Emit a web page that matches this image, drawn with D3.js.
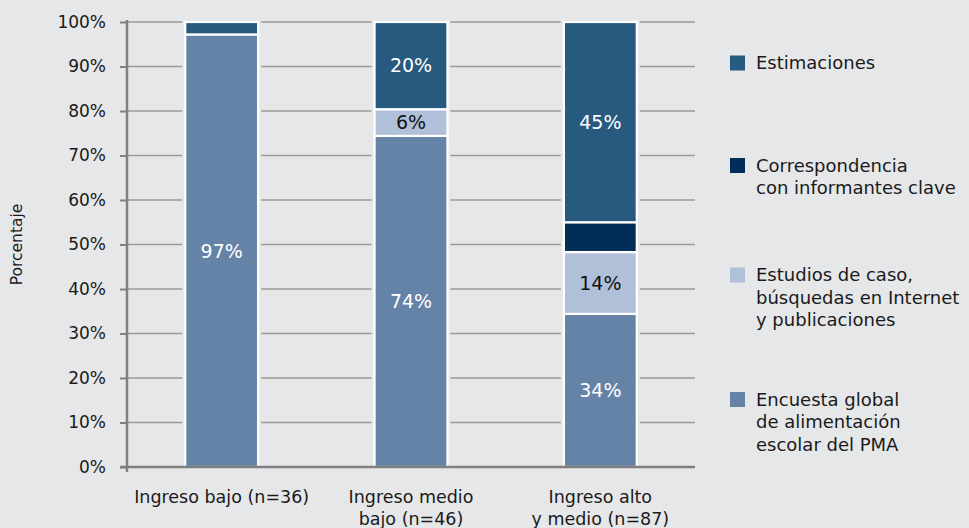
<!DOCTYPE html>
<html>
<head>
<meta charset="utf-8">
<script src="https://cdn.jsdelivr.net/npm/d3@7"></script>
<style>
  html, body { margin: 0; padding: 0; background: #e6e7e9; }
  svg { display: block; font-family: "DejaVu Sans", Verdana, sans-serif; }
  svg text { font-family: "DejaVu Sans", Verdana, sans-serif; }
</style>
</head>
<body>
<svg id="chart" width="969" height="528"></svg>
<script>
// ---- data ----
const categories = ["Ingreso bajo (n=36)", "Ingreso medio bajo (n=46)", "Ingreso alto y medio (n=87)"];
const categoryLines = [["Ingreso bajo (n=36)"], ["Ingreso medio", "bajo (n=46)"], ["Ingreso alto", "y medio (n=87)"]];
const seriesNames = ["Encuesta global de alimentación escolar del PMA", "Estudios de caso, búsquedas en Internet y publicaciones", "Correspondencia con informantes clave", "Estimaciones"];
const encuesta = [97.2, 74.4, 34.4];
const estudios = [0, 6.0, 13.9];
const correspondencia = [0, 0, 6.7];
const estimaciones = [2.8, 19.6, 45.0];
const labelsEncuesta = ["97%", "74%", "34%"];
const labelsEstudios = [null, "6%", "14%"];
const labelsCorrespondencia = [null, null, null];
const labelsEstimaciones = [null, "20%", "45%"];
const yTicks = [0, 10, 20, 30, 40, 50, 60, 70, 80, 90, 100];
const legendLines = [
  ["Estimaciones"],
  ["Correspondencia", "con informantes clave"],
  ["Estudios de caso,", "búsquedas en Internet", "y publicaciones"],
  ["Encuesta global", "de alimentación", "escolar del PMA"]
];

// ---- styles ----
const FONT = "DejaVu Sans, Verdana, sans-serif";
const bg = "#e6e7e9";
const colors = ["#6583a7", "#b0c0d8", "#022d57", "#285a80"];
const labelColors = ["#ffffff", "#111111", "#ffffff", "#ffffff"];
const seriesValues = [encuesta, estudios, correspondencia, estimaciones];
const seriesLabels = [labelsEncuesta, labelsEstudios, labelsCorrespondencia, labelsEstimaciones];

const svg = d3.select("#chart");
const x0 = 127, x1 = 695, yTop = 22, yBot = 467;

const x = d3.scaleBand().domain(categories).range([x0, x1]).paddingInner(0.615).paddingOuter(0.3075);
const y = d3.scaleLinear().domain([0, 100]).range([yBot, yTop]);

// gridlines
svg.append("g")
  .selectAll("line").data(yTicks.filter(d => d > 0)).join("line")
  .attr("x1", x0).attr("x2", x1)
  .attr("y1", d => y(d)).attr("y2", d => y(d))
  .attr("stroke", "#9a9a9a").attr("stroke-width", 1.5);

// knockouts behind bars
svg.append("g").selectAll("rect").data(categories).join("rect")
  .attr("x", d => x(d) - 3).attr("width", x.bandwidth() + 6)
  .attr("y", y(100) - 3).attr("height", y(0) - y(100) + 3)
  .attr("fill", bg);

// stacked data
const table = categories.map((c, i) => {
  const o = { cat: c };
  seriesNames.forEach((s, k) => { o[s] = seriesValues[k][i]; });
  return o;
});
const stack = d3.stack().keys(seriesNames)(table);

const gBars = svg.append("g");
stack.forEach((layer, k) => {
  gBars.append("g").selectAll("rect").data(layer).join("rect")
    .filter(d => d[1] - d[0] > 0)
    .attr("x", d => x(d.data.cat))
    .attr("width", x.bandwidth())
    .attr("y", d => y(d[1]))
    .attr("height", d => y(d[0]) - y(d[1]))
    .attr("fill", colors[k])
    .attr("stroke", "#ffffff").attr("stroke-width", 2.2);
});

// value labels
stack.forEach((layer, k) => {
  gBars.append("g").selectAll("text").data(layer).join("text")
    .filter(d => seriesLabels[k][categories.indexOf(d.data.cat)] !== null)
    .attr("x", d => x(d.data.cat) + x.bandwidth() / 2)
    .attr("y", d => y((d[0] + d[1]) / 2))
    .attr("dy", "0.36em")
    .attr("text-anchor", "middle")
    .attr("font-family", FONT)
    .attr("font-size", 19)
    .attr("fill", labelColors[k])
    .text(d => seriesLabels[k][categories.indexOf(d.data.cat)]);
});

// y axis
const yAxis = d3.axisLeft(y).tickValues(yTicks).tickFormat(d => d + "%").tickSize(7).tickPadding(14);
const gy = svg.append("g").attr("transform", `translate(${x0},0)`).call(yAxis)
  .attr("font-family", FONT).attr("font-size", 17);
gy.select(".domain").attr("stroke", "#7f7f7f").attr("stroke-width", 2.5).attr("d", `M0,${yTop - 2}V${yBot + 5}`);
gy.selectAll(".tick line").attr("stroke", "#7f7f7f").attr("stroke-width", 2);
gy.selectAll(".tick text").attr("fill", "#1a1a1a");

// x axis
const xAxis = d3.axisBottom(x).tickSize(0).tickFormat("");
const gx = svg.append("g").attr("transform", `translate(0,${yBot})`).call(xAxis)
  .attr("font-family", FONT).attr("font-size", 17.5);
gx.select(".domain").attr("stroke", "#7f7f7f").attr("stroke-width", 2.5).attr("d", `M${x0 - 7},0H${x1}`);
categories.forEach((c, i) => {
  const t = gx.append("text")
    .attr("x", x(c) + x.bandwidth() / 2)
    .attr("y", 36)
    .attr("text-anchor", "middle")
    .attr("fill", "#1a1a1a");
  categoryLines[i].forEach((ln, j) => {
    t.append("tspan").attr("x", x(c) + x.bandwidth() / 2).attr("dy", j === 0 ? 0 : 22).text(ln);
  });
});

// y title
svg.append("text")
  .attr("transform", `translate(22,${(yTop + yBot) / 2}) rotate(-90)`)
  .attr("text-anchor", "middle")
  .attr("font-family", FONT)
  .attr("font-size", 15.5)
  .attr("fill", "#1a1a1a")
  .text("Porcentaje");

// legend
const legendOrder = [3, 2, 1, 0];
const legendY = [63, 165.5, 275, 399.5];
const lg = svg.append("g").attr("font-family", FONT);
legendOrder.forEach((k, idx) => {
  const cy = legendY[idx];
  lg.append("rect").attr("x", 730).attr("y", cy - 7.5).attr("width", 15).attr("height", 15).attr("fill", colors[k]);
  const t = lg.append("text").attr("x", 756).attr("y", cy)
    .attr("font-size", 18).attr("fill", "#1a1a1a");
  legendLines[idx].forEach((ln, j) => {
    t.append("tspan").attr("x", 756).attr("dy", j === 0 ? "0.36em" : 22.5).text(ln);
  });
});
</script>
</body>
</html>
